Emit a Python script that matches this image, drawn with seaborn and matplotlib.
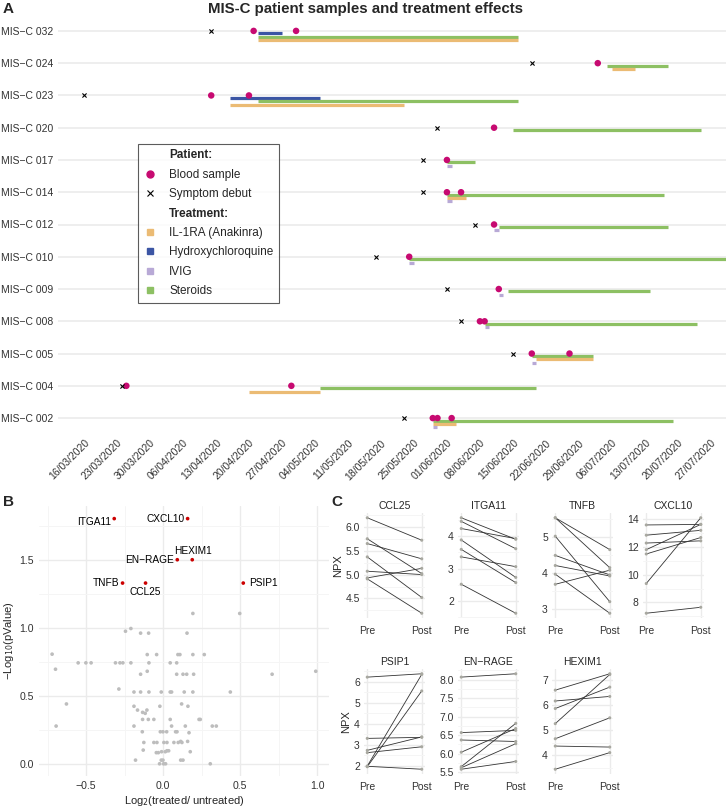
import numpy as np
import pandas as pd
import matplotlib
matplotlib.use("Agg")
import matplotlib.pyplot as plt
import matplotlib.dates as mdates
from matplotlib.lines import Line2D
from matplotlib.ticker import MultipleLocator
import seaborn as sns

# ---------------- data: panel A (timeline) ----------------
patients = ["MIS-C 032", "MIS-C 024", "MIS-C 023", "MIS-C 020", "MIS-C 017",
            "MIS-C 014", "MIS-C 012", "MIS-C 010", "MIS-C 009", "MIS-C 008",
            "MIS-C 005", "MIS-C 004", "MIS-C 002"]
symptom_date = ["2020-04-12", "2020-06-19", "2020-03-16", "2020-05-30", "2020-05-27",
                "2020-05-27", "2020-06-07", "2020-05-17", "2020-06-01", "2020-06-04",
                "2020-06-15", "2020-03-24", "2020-05-23"]

blood_patient = ["MIS-C 032", "MIS-C 032", "MIS-C 024", "MIS-C 023", "MIS-C 023",
                 "MIS-C 020", "MIS-C 017", "MIS-C 014", "MIS-C 014", "MIS-C 012",
                 "MIS-C 010", "MIS-C 009", "MIS-C 008", "MIS-C 008", "MIS-C 005",
                 "MIS-C 005", "MIS-C 004", "MIS-C 004", "MIS-C 002", "MIS-C 002",
                 "MIS-C 002"]
blood_date = ["2020-04-21", "2020-04-30", "2020-07-03", "2020-04-12", "2020-04-20",
              "2020-06-11", "2020-06-01", "2020-06-01", "2020-06-04", "2020-06-11",
              "2020-05-24", "2020-06-12", "2020-06-08", "2020-06-09", "2020-06-19",
              "2020-06-27", "2020-03-25", "2020-04-29", "2020-05-29", "2020-05-30",
              "2020-06-02"]

treat_patient = ["MIS-C 032", "MIS-C 032", "MIS-C 032",
                 "MIS-C 024", "MIS-C 024",
                 "MIS-C 023", "MIS-C 023", "MIS-C 023",
                 "MIS-C 020",
                 "MIS-C 017", "MIS-C 017",
                 "MIS-C 014", "MIS-C 014", "MIS-C 014",
                 "MIS-C 012", "MIS-C 012",
                 "MIS-C 010", "MIS-C 010",
                 "MIS-C 009", "MIS-C 009",
                 "MIS-C 008", "MIS-C 008",
                 "MIS-C 005", "MIS-C 005", "MIS-C 005",
                 "MIS-C 004", "MIS-C 004",
                 "MIS-C 002", "MIS-C 002", "MIS-C 002"]
treat_name = ["Hydroxychloroquine", "Steroids", "IL-1RA (Anakinra)",
              "Steroids", "IL-1RA (Anakinra)",
              "Hydroxychloroquine", "Steroids", "IL-1RA (Anakinra)",
              "Steroids",
              "Steroids", "IVIG",
              "Steroids", "IL-1RA (Anakinra)", "IVIG",
              "Steroids", "IVIG",
              "Steroids", "IVIG",
              "Steroids", "IVIG",
              "Steroids", "IVIG",
              "Steroids", "IL-1RA (Anakinra)", "IVIG",
              "Steroids", "IL-1RA (Anakinra)",
              "Steroids", "IL-1RA (Anakinra)", "IVIG"]
treat_start = ["2020-04-22", "2020-04-22", "2020-04-22",
               "2020-07-05", "2020-07-06",
               "2020-04-16", "2020-04-22", "2020-04-16",
               "2020-06-15",
               "2020-06-01", "2020-06-01",
               "2020-06-01", "2020-06-01", "2020-06-01",
               "2020-06-12", "2020-06-11",
               "2020-05-24", "2020-05-24",
               "2020-06-14", "2020-06-12",
               "2020-06-09", "2020-06-09",
               "2020-06-19", "2020-06-20", "2020-06-19",
               "2020-05-05", "2020-04-20",
               "2020-05-29", "2020-05-29", "2020-05-29"]
treat_end = ["2020-04-27", "2020-06-16", "2020-06-16",
             "2020-07-18", "2020-07-11",
             "2020-05-05", "2020-06-16", "2020-05-23",
             "2020-07-25",
             "2020-06-07", "2020-06-01",
             "2020-07-17", "2020-06-05", "2020-06-01",
             "2020-07-18", "2020-06-11",
             "2020-08-05", "2020-05-24",
             "2020-07-14", "2020-06-12",
             "2020-07-24", "2020-06-09",
             "2020-07-02", "2020-07-02", "2020-06-19",
             "2020-06-20", "2020-05-05",
             "2020-07-19", "2020-06-03", "2020-05-29"]

treatments = ["IL-1RA (Anakinra)", "Hydroxychloroquine", "IVIG", "Steroids"]
treat_colors = ["#EBBB74", "#3B55A4", "#B8A9D6", "#8DC063"]
tick_dates = pd.date_range("2020-03-16", "2020-07-27", freq="7D")

# ---------------- data: panel B (volcano) ----------------
volcano_fc = [-0.721, -0.699, -0.695, -0.628, -0.552, -0.502, -0.468, -0.310, -0.281, -0.262,
              -0.210, -0.245, -0.210, -0.147, -0.095, -0.104, -0.043, -0.093, -0.104, -0.147,
              -0.288, -0.190, -0.147, -0.093, -0.013, 0.045, 0.054, -0.190, -0.022, -0.167,
              -0.106, -0.134, -0.117, -0.134, -0.097, -0.061, 0.045, -0.190, -0.136, -0.019,
              -0.002, 0.022, -0.126, -0.061, -0.041, 0.004, 0.024, 0.069, -0.130, -0.045,
              -0.032, -0.011, 0.013, 0.024, 0.035, -0.180, -0.013, -0.002, -0.024, 0.002,
              0.015, 0.054, 0.080, 0.089, 0.097, 0.113, 0.121, 0.158, 0.167, 0.143,
              0.119, 0.160, 0.136, 0.192, 0.087, 0.128, 0.152, 0.197, 0.045, 0.087,
              0.095, 0.108, 0.192, 0.266, 0.154, 0.192, 0.113, 0.128, 0.175, 0.232,
              0.240, 0.318, 0.344, 0.305, 0.435, 0.496, 0.706, 0.989]
volcano_p = [0.808, 0.697, 0.278, 0.441, 0.744, 0.744, 0.744, 0.744, 0.744, 0.744,
             0.744, 0.977, 0.997, 0.963, 0.963, 0.805, 0.805, 0.744, 0.682, 0.660,
             0.551, 0.529, 0.529, 0.529, 0.529, 0.529, 0.529, 0.424, 0.424, 0.396,
             0.396, 0.379, 0.372, 0.327, 0.327, 0.327, 0.327, 0.278, 0.236, 0.236,
             0.236, 0.236, 0.157, 0.157, 0.157, 0.157, 0.157, 0.157, 0.101, 0.082,
             0.082, 0.089, 0.089, 0.096, 0.096, 0.027, 0.027, 0.027, 0.000, 0.000,
             0.000, 0.278, 0.236, 0.236, 0.157, 0.165, 0.157, 0.165, 0.229, 0.278,
             0.441, 0.424, 0.529, 0.529, 0.660, 0.660, 0.660, 0.660, 0.744, 0.744,
             0.805, 0.805, 0.805, 0.805, 0.963, 1.108, 0.027, 0.027, 0.089, 0.327,
             0.327, 0.278, 0.278, 0.000, 0.529, 1.108, 0.660, 0.682]
hit_genes = ["ITGA11", "CXCL10", "EN\u2212RAGE", "HEXIM1", "TNFB", "CCL25", "PSIP1"]
hit_fc = [-0.318, 0.158, 0.091, 0.188, -0.264, -0.115, 0.519]
hit_p = [1.807, 1.807, 1.504, 1.504, 1.332, 1.332, 1.332]

# ---------------- data: panel C (paired NPX) ----------------
npx_proteins = ["CCL25", "ITGA11", "TNFB", "CXCL10", "PSIP1", "EN\u2212RAGE", "HEXIM1"]
npx_pre = [[6.19, 5.75, 5.65, 5.37, 5.07, 4.93, 4.91],
           [4.56, 4.45, 4.23, 3.88, 3.59, 3.36, 2.52],
           [5.53, 5.53, 5.02, 4.49, 4.21, 3.97, 3.69],
           [13.60, 12.86, 12.29, 11.81, 11.50, 9.36, 7.21],
           [6.22, 3.30, 2.73, 2.62, 1.98, 1.95, 1.97],
           [8.07, 6.57, 6.37, 6.04, 5.65, 5.62, 5.58],
           [6.59, 6.16, 5.86, 5.26, 4.66, 4.37, 3.45]]
npx_post = [[5.72, 5.02, 5.33, 4.52, 5.00, 5.13, 4.19],
            [3.90, 3.61, 3.92, 2.73, 2.57, 3.06, 1.63],
            [4.65, 4.15, 3.21, 3.95, 3.92, 2.89, 4.08],
            [13.64, 13.21, 12.45, 13.64, 12.69, 14.12, 7.64],
            [6.38, 3.35, 3.37, 2.90, 6.35, 5.56, 1.83],
            [8.16, 6.63, 6.33, 6.68, 6.82, 6.27, 5.79],
            [7.24, 6.34, 6.71, 7.21, 5.49, 4.33, 4.11]]
npx_step = [0.5, 1, 1, 2, 1, 0.5, 1]

# ---------------- style ----------------
sns.set_theme(style="whitegrid")
plt.rcParams["font.family"] = ["Liberation Sans", "DejaVu Sans"]
plt.rcParams["axes.unicode_minus"] = True

W, H = 726, 806
fig = plt.figure(figsize=(W / 100, H / 100), dpi=100)
GRID = "#EBEBEB"
MINOR = "#F5F5F5"
TXT = "#333333"


def px_axes(left, top, right, bottom):
    return fig.add_axes([left / W, 1 - bottom / H, (right - left) / W, (bottom - top) / H])


def clean(ax, size):
    for s in ax.spines.values():
        s.set_visible(False)
    ax.tick_params(length=2, width=0.6, color=TXT, labelcolor=TXT, labelsize=size, pad=1.5)


# ---------------- panel A ----------------
ax = px_axes(58, 18, 726, 431)
row = {p: i for i, p in enumerate(patients)}
color_of = dict(zip(treatments, treat_colors))

LANE0, LANE_STEP = 0.075, 0.105
lane_count = {}
for p, name, s, e in zip(treat_patient, treat_name, treat_start, treat_end):
    lane = lane_count.get(p, 0)
    lane_count[p] = lane + 1
    x0 = mdates.date2num(pd.Timestamp(s))
    x1 = mdates.date2num(pd.Timestamp(e))
    if x1 <= x0:
        x1 = x0 + 1
    ax.hlines(row[p] + LANE0 + LANE_STEP * lane, x0, x1, color=color_of[name], lw=2.3, zorder=2)

blood_x = mdates.date2num(pd.to_datetime(blood_date))
blood_y = [row[p] for p in blood_patient]
sns.scatterplot(x=blood_x, y=blood_y, color="#C70A71", s=22, edgecolor="none", zorder=4, ax=ax)
sym_x = mdates.date2num(pd.to_datetime(symptom_date))
sns.scatterplot(x=sym_x, y=list(range(len(patients))), marker="x", color="black", s=9,
                linewidth=0.8, zorder=4, ax=ax)

x_lo = mdates.date2num(pd.Timestamp("2020-03-16")) - 5.5
x_hi = mdates.date2num(pd.Timestamp("2020-07-27")) + 3.2
ax.set_xlim(x_lo, x_hi)
ax.set_ylim(12.4, -0.4)
ax.set_yticks(range(len(patients)))
ax.set_yticklabels([p.replace("-", "\u2212") for p in patients])
ax.set_xticks(mdates.date2num(tick_dates))
ax.set_xticklabels([d.strftime("%d/%m/%Y") for d in tick_dates], rotation=45,
                   ha="right", va="top", rotation_mode="anchor")
ax.grid(axis="x", visible=False)
ax.grid(axis="y", color=GRID, lw=1.2)
ax.set_xlabel("")
ax.set_ylabel("")
clean(ax, 7.5)
ax.tick_params(axis="x", pad=3)

handles = [Line2D([], [], ls="none"),
           Line2D([], [], marker="o", ls="none", color="#C70A71", markersize=5),
           Line2D([], [], marker="x", ls="none", color="black", markersize=4, mew=0.8),
           Line2D([], [], ls="none")]
handles += [Line2D([], [], marker="s", ls="none", color=c, markersize=4.5) for c in treat_colors]
labels = ["Patient:", "Blood sample", "Symptom debut", "Treatment:"] + treatments
leg = ax.legend(handles, labels, loc="upper left", bbox_to_anchor=(138 / W, 1 - 144 / H),
                bbox_transform=fig.transFigure, frameon=True, fancybox=False,
                edgecolor="#333333", fontsize=8.5, handlelength=1.2, handletextpad=1.0,
                labelspacing=0.63, borderpad=0.45, borderaxespad=0)
leg.get_frame().set_linewidth(0.8)
for i in (0, 3):
    leg.get_texts()[i].set_fontweight("bold")

fig.text(366 / W, 1 - 9 / H, "MIS-C patient samples and treatment effects",
         ha="center", va="center", fontsize=10.8, fontweight="bold")
fig.text(3 / W, 1 - 9 / H, "A", ha="left", va="center", fontsize=11, fontweight="bold")
fig.text(3 / W, 1 - 502 / H, "B", ha="left", va="center", fontsize=11, fontweight="bold")
fig.text(331 / W, 1 - 502 / H, "C", ha="left", va="center", fontsize=11, fontweight="bold")

# ---------------- panel B ----------------
axb = px_axes(39, 506, 329, 776)
sns.scatterplot(x=volcano_fc, y=volcano_p, color="#BDBDBD", s=7, edgecolor="none", ax=axb)
sns.scatterplot(x=hit_fc, y=hit_p, color="#CC0000", s=7, edgecolor="none", ax=axb)
label_pos = {"ITGA11": ((-2.5, -2.5), "right", "center"),
             "CXCL10": ((-2.2, 0), "right", "center"),
             "EN\u2212RAGE": ((-2.5, 0), "right", "center"),
             "HEXIM1": ((0.5, 6), "center", "center"),
             "TNFB": ((-2.2, 0), "right", "center"),
             "CCL25": ((0, -6.5), "center", "center"),
             "PSIP1": ((4.5, 0), "left", "center")}
for g, x, y in zip(hit_genes, hit_fc, hit_p):
    off, ha, va = label_pos[g]
    axb.annotate(g, (x, y), xytext=off, textcoords="offset points", ha=ha, va=va,
                 fontsize=7.3, color="black")
axb.set_xlim(-0.806, 1.075)
axb.set_ylim(-0.09, 1.90)
axb.xaxis.set_major_locator(MultipleLocator(0.5))
axb.xaxis.set_minor_locator(MultipleLocator(0.25))
axb.yaxis.set_major_locator(MultipleLocator(0.5))
axb.yaxis.set_minor_locator(MultipleLocator(0.25))
axb.grid(which="major", color=GRID, lw=1.0)
axb.grid(which="minor", color=MINOR, lw=0.7)
axb.set_xlabel("Log$_2$(treated/ untreated)", fontsize=8, labelpad=2)
axb.set_ylabel("\u2212Log$_{10}$(pValue)", fontsize=8)
axb.yaxis.set_label_coords(-0.078, 0.5)
clean(axb, 7.6)
axb.tick_params(which="minor", length=0)

# ---------------- panel C ----------------
c_boxes = [(364, 513), (458, 513), (552, 513), (643, 513),
           (364, 669), (458, 669), (552, 669)]
for k, (name, pre, post) in enumerate(zip(npx_proteins, npx_pre, npx_post)):
    left, top = c_boxes[k]
    axc = px_axes(left, top, left + 61, top + 105)
    n = len(pre)
    df = pd.DataFrame({"patient": list(range(n)) * 2,
                       "time": [0] * n + [1] * n,
                       "npx": list(pre) + list(post)})
    sns.lineplot(data=df, x="time", y="npx", units="patient", estimator=None,
                 color="#333333", lw=0.6, ax=axc)
    sns.scatterplot(data=df, x="time", y="npx", color="#A8A8A0", s=5, edgecolor="none",
                    zorder=3, ax=axc)
    axc.set_xlim(-0.06, 1.06)
    axc.set_xticks([0, 1])
    axc.set_xticklabels(["Pre", "Post"])
    axc.yaxis.set_major_locator(MultipleLocator(npx_step[k]))
    axc.yaxis.set_minor_locator(MultipleLocator(npx_step[k] / 2))
    axc.grid(which="major", color=GRID, lw=1.0)
    axc.grid(axis="y", which="minor", color=MINOR, lw=0.7)
    axc.set_title(name, fontsize=7.5, pad=3)
    axc.set_xlabel("")
    axc.set_ylabel("NPX" if k in (0, 4) else "", fontsize=8, labelpad=2)
    clean(axc, 7.5)
    axc.tick_params(which="minor", length=0)
    axc.tick_params(length=1.5)
    axc.tick_params(axis="x", pad=4)

fig.savefig("out.png", dpi=100)
